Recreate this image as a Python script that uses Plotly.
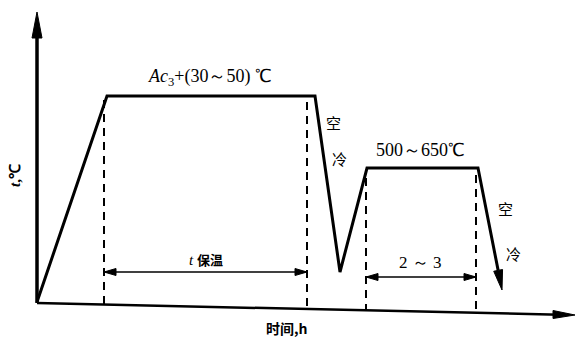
import math
import plotly.graph_objects as go

# ---- data (time in arbitrary units, temperature in arbitrary units) ----
time = [0, 70, 278, 303, 330, 441, 465]
temp = [0, 206, 206, 30, 134, 134, 12]
dash_t = [67, 270, 329, 439]
dash_top = [202, 200, 124, 127]
hold1 = [67, 270, 30]      # t_start, t_end, level
hold2 = [329, 439, 25]
axis_end_t = 538
axis_tilt = -12  # drop of the time axis across its length (scan tilt)

XR = [-37, 538]
YR = [-37, 302]

def axis_T(t):
    return -1 + axis_tilt * t / axis_end_t

fig = go.Figure()

def tri(xs, ys):
    fig.add_trace(go.Scatter(x=xs, y=ys, mode="lines", fill="toself",
                             fillcolor="black", line=dict(color="black", width=1),
                             hoverinfo="skip"))

# last cooling segment: arrowhead computed from the last two points
x0, y0, x1, y1 = time[-2], temp[-2], time[-1], temp[-1]
L = math.hypot(x1 - x0, y1 - y0)
ux, uy = (x1 - x0) / L, (y1 - y0) / L
hl, hw = 20, 4.5
bx, by = x1 - ux * hl, y1 - uy * hl
px, py = -uy, ux

fig.add_trace(go.Scatter(x=time[:-1] + [bx], y=temp[:-1] + [by], mode="lines",
                         line=dict(color="black", width=3), hoverinfo="skip"))
tri([bx + px * hw, x1, bx - px * hw, bx + px * hw], [by + py * hw, y1, by - py * hw, by + py * hw])

# dashed verticals
for t, top in zip(dash_t, dash_top):
    fig.add_trace(go.Scatter(x=[t, t], y=[top, axis_T(t)], mode="lines",
                             line=dict(color="black", width=2, dash="8px,6px"),
                             hoverinfo="skip"))

# axes lines
fig.add_trace(go.Scatter(x=[0, 0], y=[axis_T(0), 270], mode="lines",
                         line=dict(color="black", width=3.5), hoverinfo="skip"))
fig.add_trace(go.Scatter(x=[0, axis_end_t - 15], y=[axis_T(0), axis_T(axis_end_t - 15)],
                         mode="lines", line=dict(color="black", width=2.5), hoverinfo="skip"))

tri([-5, 0, 5, -5], [264, 290, 264, 264])
e = axis_end_t
tri([e - 22, e, e - 22, e - 22], [axis_T(e - 22) + 4, axis_T(e), axis_T(e - 22) - 4, axis_T(e - 22) + 4])

# duration double arrows
ah, aw = 12, 3.5
for (a, b, lv) in [hold1, hold2]:
    fig.add_trace(go.Scatter(x=[a, b], y=[lv, lv], mode="lines",
                             line=dict(color="black", width=1.6), hoverinfo="skip"))
    tri([a, a + ah, a + ah, a], [lv, lv + aw, lv - aw, lv])
    tri([b, b - ah, b - ah, b], [lv, lv + aw, lv - aw, lv])

serif = "Liberation Serif"
cjk = "Noto Sans CJK SC"

def txt(x, y, s, size=16, font=serif, angle=0):
    fig.add_annotation(x=x, y=y, xref="x", yref="y", text=s, showarrow=False,
                       font=dict(family=font, size=size, color="black"), textangle=angle)

txt(173, 225, "<i>Ac</i><sub>3</sub>+(30～50) ℃", size=18)
txt(296, 180, "空", size=15, font=cjk)
txt(302, 144, "冷", size=15, font=cjk)
txt(383, 152, "500～650℃", size=18)
txt(169, 43, "<i>t</i> <b><span style='font-size:13px;font-family:Noto Sans CJK SC'>保温</span></b>", size=15)
txt(383, 40, "2 ～ 3", size=17)
txt(468, 94, "空", size=15, font=cjk)
txt(476, 49, "冷", size=15, font=cjk)
txt(-22, 126, "<b><i>t</i>,℃</b>", size=15, angle=-90)
txt(250, -26, "<b>时间,h</b>", size=14, font=cjk)

fig.update_layout(
    width=575, height=339, margin=dict(l=0, r=0, t=0, b=0),
    paper_bgcolor="white", plot_bgcolor="white", showlegend=False,
    xaxis=dict(range=XR, visible=False, fixedrange=True),
    yaxis=dict(range=YR, visible=False, fixedrange=True),
)
fig.write_html("out.html", config={"displayModeBar": False},
               post_script="document.body.style.margin='0px';")
